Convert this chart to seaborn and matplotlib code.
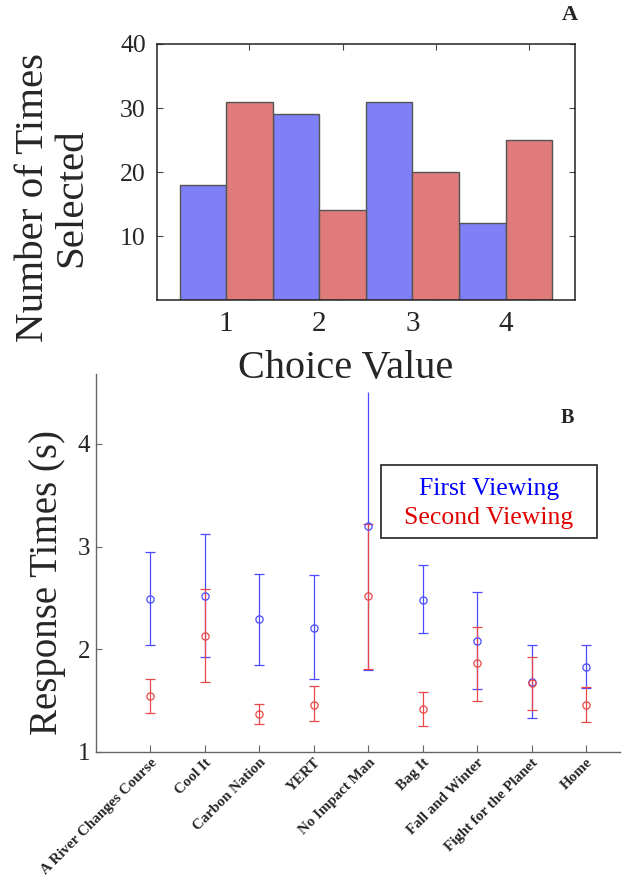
import matplotlib
matplotlib.use("Agg")
import matplotlib.pyplot as plt
from matplotlib.patches import Rectangle
from matplotlib.ticker import FixedLocator
import numpy as np
import pandas as pd
import seaborn as sns

# ---- panel A: how often each choice value was picked ----
choice_values = ["1", "2", "3", "4"]
first_counts = [18, 29, 31, 12]
second_counts = [31, 14, 20, 25]

# ---- panel B: response times per film (mean with interval bounds) ----
films = ["A River Changes Course", "Cool It", "Carbon Nation", "YERT",
         "No Impact Man", "Bag It", "Fall and Winter", "Fight for the Planet",
         "Home"]
first_mean = [2.49, 2.52, 2.29, 2.21, 3.20, 2.48, 2.08, 1.68, 1.83]
first_low = [2.04, 1.92, 1.85, 1.71, 1.80, 2.16, 1.61, 1.33, 1.62]
first_high = [2.95, 3.12, 2.73, 2.72, 4.50, 2.82, 2.56, 2.04, 2.04]
second_mean = [1.54, 2.13, 1.37, 1.46, 2.52, 1.42, 1.87, 1.67, 1.46]
second_low = [1.38, 1.68, 1.27, 1.30, 1.81, 1.25, 1.50, 1.41, 1.29]
second_high = [1.71, 2.59, 1.47, 1.64, 3.22, 1.58, 2.22, 1.92, 1.63]

series_names = ["First Viewing", "Second Viewing"]

sns.set_theme(style="white")
plt.rcParams["font.family"] = ["Liberation Serif", "DejaVu Serif"]

bar_fill = {"First Viewing": "#7f7ff8", "Second Viewing": "#e07b7b"}
line_col = {"First Viewing": "#4a4aff", "Second Viewing": "#e84848"}
text_col = {"First Viewing": "#0000ff", "Second Viewing": "#e00000"}

fig = plt.figure(figsize=(6.32, 8.8), dpi=100)

# ---------------- panel A ----------------
axA = fig.add_axes([0.2484, 0.659, 0.6614, 0.291])
counts = pd.DataFrame({
    "choice": choice_values * 2,
    "viewing": [series_names[0]] * 4 + [series_names[1]] * 4,
    "count": first_counts + second_counts,
})
sns.barplot(data=counts, x="choice", y="count", hue="viewing",
            order=choice_values, hue_order=series_names, palette=bar_fill,
            width=1.0, saturation=1, edgecolor="#555555", linewidth=1.0,
            legend=False, ax=axA)
axA.set_xlim(-0.742, 3.745)
axA.set_ylim(0, 40)
axA.set_xlabel("")
axA.set_ylabel("")
for s in axA.spines.values():
    s.set_visible(True)
    s.set_color("#222222")
    s.set_linewidth(1.1)
axA.set_yticks([10, 20, 30, 40])
axA.tick_params(axis="y", which="major", direction="in", length=4, width=0.8,
                left=True, right=True, labelsize=18.5, pad=8, color="#444444")
axA.set_xticks(range(len(choice_values)))
axA.set_xticklabels(choice_values)
axA.xaxis.set_minor_locator(FixedLocator(np.arange(len(choice_values)) + 0.25))
axA.tick_params(axis="x", which="major", length=0, labelsize=21, pad=8)
axA.tick_params(axis="x", which="minor", direction="in", length=4, width=0.8,
                bottom=True, top=True, color="#444444")
fig.text(53 / 632, 1 - 198 / 880, "Number of Times\nSelected", rotation=90,
         ha="center", va="center", multialignment="center", fontsize=29.5,
         linespacing=1.05)
fig.text(346 / 632, 1 - 368 / 880, "Choice Value", ha="center", va="center",
         fontsize=29)
fig.text(570 / 632, 1 - 15 / 880, "A", ha="center", va="center",
         fontsize=16, fontweight="bold")

# ---------------- panel B ----------------
axB = fig.add_axes([0.1519, 0.1455, 0.8291, 0.4295])
pos = np.arange(len(films))
top_limit = 4.68
groups = [
    (series_names[0], first_mean, first_low, first_high),
    (series_names[1], second_mean, second_low, second_high),
]
for name, mean, low, high in groups:
    mean = np.asarray(mean)
    err = np.vstack([mean - np.asarray(low), np.asarray(high) - mean])
    _, caps, _ = axB.errorbar(pos, mean, yerr=err, fmt="o", mfc="none",
                              mec=line_col[name], ms=5.2, mew=0.9,
                              ecolor=line_col[name], elinewidth=0.9,
                              capsize=3.5, capthick=0.9, zorder=3)
    # intervals that reach the panel's upper edge are left open (no cap)
    for cap in caps:
        ys = cap.get_ydata()
        cap.set_markevery([i for i, v in enumerate(ys) if v < 4.45])

axB.set_xlim(-1.0, 8.62)
axB.set_ylim(1, top_limit)
axB.spines["top"].set_visible(False)
axB.spines["right"].set_visible(False)
for side in ("left", "bottom"):
    axB.spines[side].set_visible(True)
    axB.spines[side].set_color("#666666")
    axB.spines[side].set_linewidth(1.0)
axB.set_yticks([1, 2, 3, 4])
axB.tick_params(axis="y", direction="in", length=4, width=0.8, left=True,
                labelsize=18, pad=4, color="#666666")
axB.set_xticks(pos)
axB.set_xticklabels(films, rotation=45, ha="right", va="top",
                    rotation_mode="anchor", fontsize=10.8, fontweight="bold")
axB.tick_params(axis="x", direction="in", length=5, width=0.8, bottom=True,
                pad=3, color="#666666")
axB.set_xlabel("")
fig.text(48 / 632, 1 - 582 / 880, "Response Times (s)", rotation=90,
         ha="center", va="center", fontsize=28)
fig.text(567 / 632, 1 - 418 / 880, "B", ha="center", va="center",
         fontsize=14.5, fontweight="bold")

# key box with coloured series names
bx0, bx1 = (381 - 96) / 524, (597 - 96) / 524
by0, by1 = (752 - 538) / 378, (752 - 465) / 378
axB.add_patch(Rectangle((bx0, by0), bx1 - bx0, by1 - by0,
                        transform=axB.transAxes, fill=False,
                        edgecolor="#222222", linewidth=1.2, clip_on=False))
xc = (bx0 + bx1) / 2
axB.text(xc, (752 - 489) / 378, series_names[0], transform=axB.transAxes,
         ha="center", va="center", fontsize=18.5,
         color=text_col[series_names[0]])
axB.text(xc, (752 - 518) / 378, series_names[1], transform=axB.transAxes,
         ha="center", va="center", fontsize=18.5,
         color=text_col[series_names[1]])

fig.savefig("out.png", dpi=100)
